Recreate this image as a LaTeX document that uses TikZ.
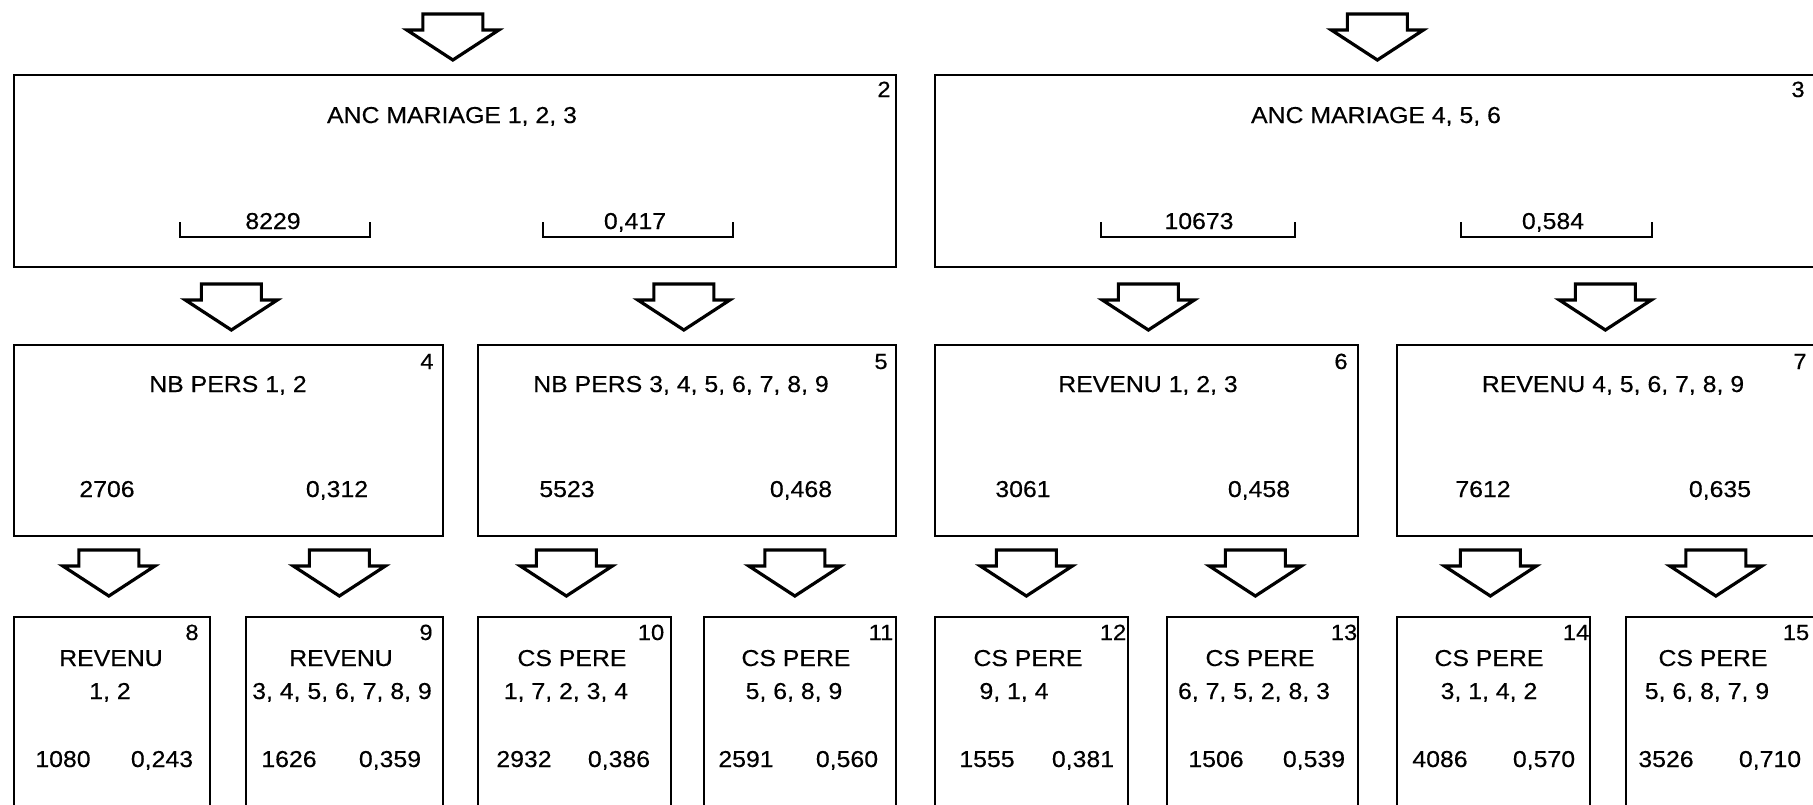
\documentclass[tikz,border=0pt]{standalone}
\usepackage{fontspec}
\setmainfont{Liberation Sans}[FakeStretch=1.08,FakeBold=0.4]
\usetikzlibrary{calc}
\begin{document}
\begin{tikzpicture}[x=1pt,y=-1pt,
  box/.style={draw, line width=1.7pt, inner sep=0pt, anchor=north west},
  lbl/.style={font=\fontsize{23}{27}\selectfont, anchor=base, inner sep=0pt},
  num/.style={font=\fontsize{22}{26}\selectfont, anchor=base, inner sep=0pt},
  bracket/.style={draw, line width=1.8pt},
  blockarrow/.pic={\draw[line width=3.2pt, line join=miter, fill=white]
     (-30,-46) -- (30,-46) -- (30,-30) -- (46,-30) -- (0,0) -- (-46,-30) -- (-30,-30) -- cycle;}]
\useasboundingbox (0,0) rectangle (1813,804);

% ---------- boxes ----------
\node[box, minimum width=882pt, minimum height=192pt] (b2) at (13,74) {};
\node[box, minimum width=885pt, minimum height=192pt] (b3) at (934,74) {};
\node[box, minimum width=429pt, minimum height=191pt] (b4) at (13,344) {};
\node[box, minimum width=418pt, minimum height=191pt] (b5) at (477,344) {};
\node[box, minimum width=423pt, minimum height=191pt] (b6) at (934,344) {};
\node[box, minimum width=425pt, minimum height=191pt] (b7) at (1396,344) {};
\node[box, minimum width=196pt, minimum height=210pt] (b8) at (13,616) {};
\node[box, minimum width=197pt, minimum height=210pt] (b9) at (245,616) {};
\node[box, minimum width=193pt, minimum height=210pt] (b10) at (477,616) {};
\node[box, minimum width=192pt, minimum height=210pt] (b11) at (703,616) {};
\node[box, minimum width=193pt, minimum height=210pt] (b12) at (934,616) {};
\node[box, minimum width=191pt, minimum height=210pt] (b13) at (1166,616) {};
\node[box, minimum width=193pt, minimum height=210pt] (b14) at (1396,616) {};
\node[box, minimum width=196pt, minimum height=210pt] (b15) at (1625,616) {};

% ---------- block arrows (above each child box) ----------
\foreach \b/\dx in {b2/-2,b3/0,b4/3,b5/-3,b6/2,b7/-4}
  \pic at ($(\b.north)+(\dx,-14)$) {blockarrow};
\foreach \b/\dx in {b8/-3,b9/-5,b10/-8,b11/-5,b12/-5,b13/-7,b14/-3,b15/-8}
  \pic at ($(\b.north)+(\dx,-20)$) {blockarrow};

% ---------- box 2 ----------
\node[lbl] (t2) at (452,123) {ANC MARIAGE 1, 2, 3};
\node[num] (n2) at (884,97) {2};
\node[lbl] (v2a) at (273,229) {8229};
\node[lbl] (v2b) at (635,229) {0,417};
\draw[bracket] (180,222) -- (180,237) -- (370,237) -- (370,222);
\draw[bracket] (543,222) -- (543,237) -- (733,237) -- (733,222);

% ---------- box 3 ----------
\node[lbl] (t3) at (1376,123) {ANC MARIAGE 4, 5, 6};
\node[num] (n3) at (1798,97) {3};
\node[lbl] (v3a) at (1199,229) {10673};
\node[lbl] (v3b) at (1553,229) {0,584};
\draw[bracket] (1101,222) -- (1101,237) -- (1295,237) -- (1295,222);
\draw[bracket] (1461,222) -- (1461,237) -- (1652,237) -- (1652,222);

% ---------- row 2 ----------
\node[lbl] (t4) at (228,392) {NB PERS 1, 2};
\node[num] (n4) at (427,369) {4};
\node[lbl] (v4a) at (107,497) {2706};
\node[lbl] (v4b) at (337,497) {0,312};

\node[lbl] (t5) at (681,392) {NB PERS 3, 4, 5, 6, 7, 8, 9};
\node[num] (n5) at (881,369) {5};
\node[lbl] (v5a) at (567,497) {5523};
\node[lbl] (v5b) at (801,497) {0,468};

\node[lbl] (t6) at (1148,392) {REVENU 1, 2, 3};
\node[num] (n6) at (1341,369) {6};
\node[lbl] (v6a) at (1023,497) {3061};
\node[lbl] (v6b) at (1259,497) {0,458};

\node[lbl] (t7) at (1613,392) {REVENU 4, 5, 6, 7, 8, 9};
\node[num] (n7) at (1800,369) {7};
\node[lbl] (v7a) at (1483,497) {7612};
\node[lbl] (v7b) at (1720,497) {0,635};

% ---------- row 3 ----------
\node[lbl] (t8) at (111,666) {REVENU};
\node[lbl] (s8) at (110,699) {1, 2};
\node[lbl] (v8a) at (63,767) {1080};
\node[lbl] (v8b) at (162,767) {0,243};
\node[num] (n8) at (192,640) {8};

\node[lbl] (t9) at (341,666) {REVENU};
\node[lbl] (s9) at (342,699) {3, 4, 5, 6, 7, 8, 9};
\node[lbl] (v9a) at (289,767) {1626};
\node[lbl] (v9b) at (390,767) {0,359};
\node[num] (n9) at (426,640) {9};

\node[lbl] (t10) at (572,666) {CS PERE};
\node[lbl] (s10) at (566,699) {1, 7, 2, 3, 4};
\node[lbl] (v10a) at (524,767) {2932};
\node[lbl] (v10b) at (619,767) {0,386};
\node[num] (n10) at (651,640) {10};

\node[lbl] (t11) at (796,666) {CS PERE};
\node[lbl] (s11) at (794,699) {5, 6, 8, 9};
\node[lbl] (v11a) at (746,767) {2591};
\node[lbl] (v11b) at (847,767) {0,560};
\node[num] (n11) at (881,640) {11};

\node[lbl] (t12) at (1028,666) {CS PERE};
\node[lbl] (s12) at (1014,699) {9, 1, 4};
\node[lbl] (v12a) at (987,767) {1555};
\node[lbl] (v12b) at (1083,767) {0,381};
\node[num] (n12) at (1113,640) {12};

\node[lbl] (t13) at (1260,666) {CS PERE};
\node[lbl] (s13) at (1254,699) {6, 7, 5, 2, 8, 3};
\node[lbl] (v13a) at (1216,767) {1506};
\node[lbl] (v13b) at (1314,767) {0,539};
\node[num] (n13) at (1344,640) {13};

\node[lbl] (t14) at (1489,666) {CS PERE};
\node[lbl] (s14) at (1489,699) {3, 1, 4, 2};
\node[lbl] (v14a) at (1440,767) {4086};
\node[lbl] (v14b) at (1544,767) {0,570};
\node[num] (n14) at (1576,640) {14};

\node[lbl] (t15) at (1713,666) {CS PERE};
\node[lbl] (s15) at (1707,699) {5, 6, 8, 7, 9};
\node[lbl] (v15a) at (1666,767) {3526};
\node[lbl] (v15b) at (1770,767) {0,710};
\node[num] (n15) at (1796,640) {15};
\end{tikzpicture}
\end{document}
